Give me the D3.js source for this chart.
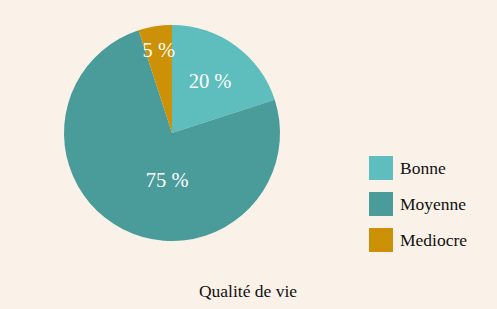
<!DOCTYPE html>
<html>
<head>
<meta charset="utf-8">
<script src="https://cdn.jsdelivr.net/npm/d3@7"></script>
<style>
  body { margin: 0; background: #faf2e8; }
  text { font-family: "Liberation Serif", "DejaVu Serif", serif; }
</style>
</head>
<body>
<div id="chart"></div>
<script>
// data
var categories = ["Bonne", "Moyenne", "Mediocre"];
var shares = [20, 75, 5];
var colors = ["#5ebdbd", "#4a9c9a", "#cc9106"];
var title = "Qualité de vie";

var svgWidth = 497;
var svgHeight = 309;
var cx = 172, cy = 133, radius = 108;

// where each percent label sits inside its slice (fraction of radius, angle shift)
var labelPos = [
  { r: 0.6, shift: 0 },
  { r: 0.44, shift: -0.37 },
  { r: 0.78, shift: 0 }
];

var svg = d3.select("#chart")
  .append("svg")
  .attr("width", svgWidth)
  .attr("height", svgHeight);

svg.append("rect")
  .attr("width", svgWidth)
  .attr("height", svgHeight)
  .attr("fill", "#faf2e8");

var pieData = d3.pie().sort(null).value(d => d)(shares);
var arc = d3.arc().innerRadius(0).outerRadius(radius);

var pieGroup = svg.append("g")
  .attr("transform", `translate(${cx}, ${cy})`);

pieGroup.selectAll("path")
  .data(pieData)
  .enter()
  .append("path")
  .attr("d", arc)
  .attr("fill", (d, i) => colors[i]);

pieGroup.selectAll("text.pct")
  .data(pieData)
  .enter()
  .append("text")
  .attr("class", "pct")
  .attr("transform", function(d, i) {
    var a = (d.startAngle + d.endAngle) / 2 + labelPos[i].shift;
    var r = radius * labelPos[i].r;
    return `translate(${Math.sin(a) * r}, ${-Math.cos(a) * r})`;
  })
  .attr("text-anchor", "middle")
  .attr("dy", "0.35em")
  .attr("fill", "#ffffff")
  .attr("font-size", "20.5px")
  .text(d => d.value + " %");

// legend
var legend = svg.append("g")
  .attr("transform", "translate(369, 156)");

var items = legend.selectAll("g")
  .data(categories)
  .enter()
  .append("g")
  .attr("transform", (d, i) => `translate(0, ${i * 36})`);

items.append("rect")
  .attr("width", 24)
  .attr("height", 24)
  .attr("fill", (d, i) => colors[i]);

items.append("text")
  .attr("x", 31)
  .attr("y", 11.5)
  .attr("dy", "0.35em")
  .attr("font-size", "17.5px")
  .attr("fill", "#111111")
  .text(d => d);

svg.append("text")
  .attr("x", 248)
  .attr("y", 290.5)
  .attr("dy", "0.35em")
  .attr("text-anchor", "middle")
  .attr("font-size", "17.5px")
  .attr("fill", "#111111")
  .text(title);
</script>
</body>
</html>
